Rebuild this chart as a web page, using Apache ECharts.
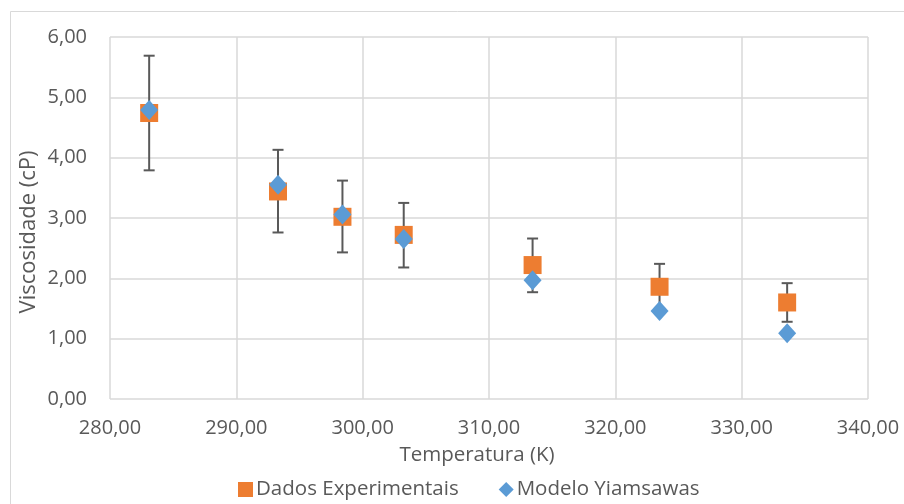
<!DOCTYPE html>
<html>
<head>
<meta charset="utf-8">
<script src="https://cdn.jsdelivr.net/npm/echarts@6/dist/echarts.min.js"></script>
<style>
html,body{margin:0;padding:0;background:#fff;}
#c{width:904px;height:504px;}
</style>
</head>
<body>
<div id="c"></div>
<script>
const temperatura = [283.1, 293.3, 298.4, 303.25, 313.45, 323.5, 333.6];
const dadosExperimentais = [4.74, 3.44, 3.02, 2.72, 2.22, 1.86, 1.60];
const modeloYiamsawas = [4.79, 3.55, 3.06, 2.65, 1.97, 1.46, 1.09];
const erroSuperior = [5.69, 4.13, 3.62, 3.25, 2.66, 2.24, 1.92];
const erroInferior = [3.79, 2.76, 2.43, 2.18, 1.77, 1.49, 1.28];

const FONT = 'Open Sans';
const TXT = '#595959';
const fmt = v => v.toFixed(2).replace('.', ',');

const chart = echarts.init(document.getElementById('c'), null, {renderer: 'canvas'});

const expData = temperatura.map((t, i) => [t, dadosExperimentais[i]]);
const modData = temperatura.map((t, i) => [t, modeloYiamsawas[i]]);
const errData = temperatura.map((t, i) => [t, erroInferior[i], erroSuperior[i]]);

chart.setOption({
  backgroundColor: '#ffffff',
  animation: false,
  textStyle: {fontFamily: FONT, color: TXT},
  graphic: [
    {type: 'rect', left: 8, top: 9, z: -10, silent: true,
     shape: {width: 920, height: 520},
     style: {fill: 'none', stroke: '#d9d9d9', lineWidth: 1}},
    {type: 'text', x: 29, y: 232, rotation: Math.PI / 2,
     style: {text: 'Viscosidade (cP)', fontFamily: FONT, fontSize: 22, fill: TXT,
             align: 'center', verticalAlign: 'middle'}},
    {type: 'text', x: 477, y: 455,
     style: {text: 'Temperatura (K)', fontFamily: FONT, fontSize: 20.5, fill: TXT,
             align: 'center', verticalAlign: 'middle'}}
  ],
  grid: {left: 110, right: 36, top: 37, bottom: 105, containLabel: false},
  legend: {
    left: 233, top: 474,
    itemWidth: 15, itemHeight: 15, itemGap: 40,
    textStyle: {fontFamily: FONT, fontSize: 20.5, color: TXT, padding: [0, 0, 0, -2]},
    data: [
      {name: 'Dados Experimentais', icon: 'rect'},
      {name: 'Modelo Yiamsawas', icon: 'diamond'}
    ]
  },
  xAxis: {
    type: 'value', min: 280, max: 340, interval: 10,
    axisLine: {show: false}, axisTick: {show: false},
    splitLine: {show: true, lineStyle: {color: '#d9d9d9', width: 1.5}},
    axisLabel: {formatter: fmt, fontFamily: FONT, fontSize: 20, color: TXT, margin: 19}
  },
  yAxis: {
    type: 'value', min: 0, max: 6, interval: 1,
    axisLine: {show: false}, axisTick: {show: false},
    splitLine: {show: true, lineStyle: {color: '#d9d9d9', width: 1.5}},
    axisLabel: {formatter: fmt, fontFamily: FONT, fontSize: 20, color: TXT, margin: 23}
  },
  series: [
    {
      name: 'Barras de erro', type: 'custom', z: 2,
      data: errData,
      encode: {x: 0, y: [1, 2]},
      renderItem: function (params, api) {
        const x = api.value(0);
        const pLo = api.coord([x, api.value(1)]);
        const pHi = api.coord([x, api.value(2)]);
        const hw = 5.5;
        const st = {stroke: '#595959', lineWidth: 2};
        return {type: 'group', children: [
          {type: 'line', shape: {x1: pHi[0], y1: pHi[1], x2: pLo[0], y2: pLo[1]}, style: st},
          {type: 'line', shape: {x1: pHi[0] - hw, y1: pHi[1], x2: pHi[0] + hw, y2: pHi[1]}, style: st},
          {type: 'line', shape: {x1: pLo[0] - hw, y1: pLo[1], x2: pLo[0] + hw, y2: pLo[1]}, style: st}
        ]};
      }
    },
    {
      name: 'Dados Experimentais', type: 'scatter', z: 3,
      symbol: 'rect', symbolSize: 18,
      itemStyle: {color: '#ED7D31', opacity: 1},
      data: expData
    },
    {
      name: 'Modelo Yiamsawas', type: 'scatter', z: 4,
      symbol: 'diamond', symbolSize: [18, 20],
      itemStyle: {color: '#5B9BD5', opacity: 1},
      data: modData
    }
  ]
});
</script>
</body>
</html>
